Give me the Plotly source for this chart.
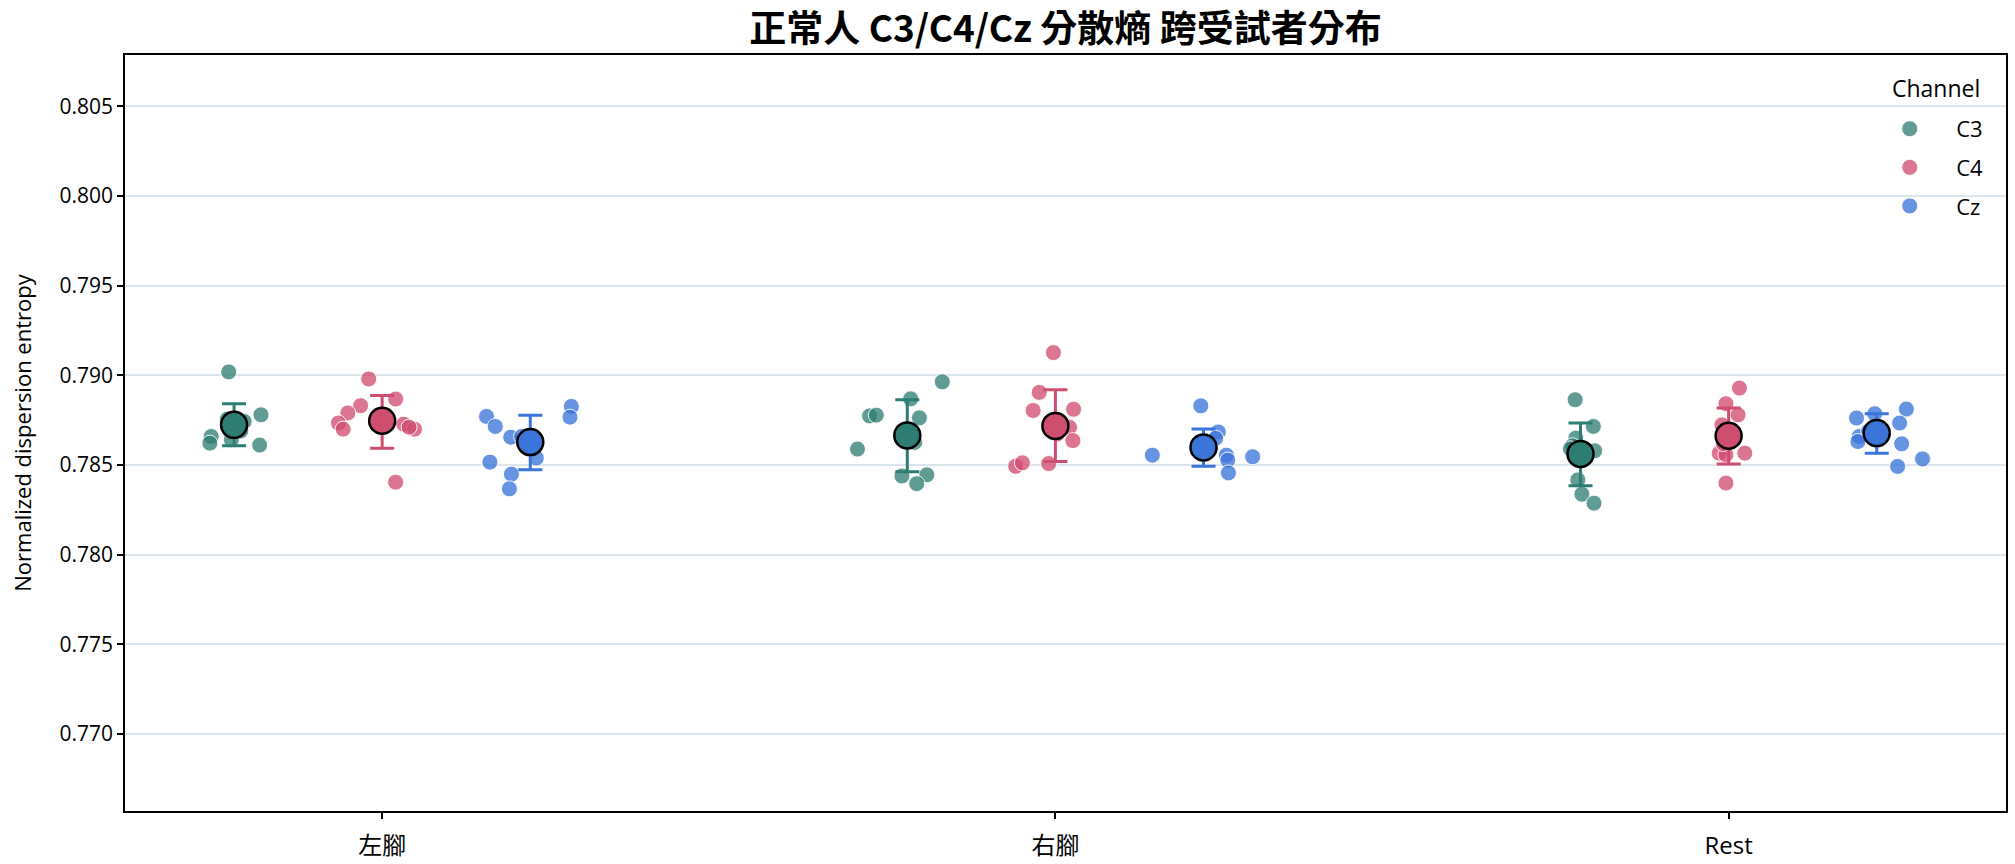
import plotly.graph_objects as go

# ---------------- data ----------------
conditions = ["左腳", "右腳", "Rest"]
channels = ["C3", "C4", "Cz"]

c3_values = [
    [0.79019, 0.78780, 0.78611, 0.78659, 0.78622, 0.78743, 0.78756, 0.78641, 0.78720, 0.78690],
    [0.78964, 0.78869, 0.78774, 0.78778, 0.78763, 0.78589, 0.78626, 0.78439, 0.78445, 0.78396],
    [0.78864, 0.78715, 0.78579, 0.78650, 0.78607, 0.78417, 0.78337, 0.78287, 0.78590, 0.78575],
]
c4_values = [
    [0.78980, 0.78868, 0.78831, 0.78790, 0.78734, 0.78700, 0.78728, 0.78700, 0.78404, 0.78711],
    [0.79127, 0.78905, 0.78804, 0.78811, 0.78710, 0.78636, 0.78493, 0.78512, 0.78508, 0.78674],
    [0.78929, 0.78842, 0.78780, 0.78724, 0.78566, 0.78557, 0.78566, 0.78399, 0.78650, 0.78620],
]
cz_values = [
    [0.78771, 0.78715, 0.78655, 0.78659, 0.78516, 0.78449, 0.78367, 0.78539, 0.78827, 0.78767],
    [0.78830, 0.78684, 0.78649, 0.78555, 0.78555, 0.78527, 0.78456, 0.78546, 0.78590, 0.78588],
    [0.78762, 0.78786, 0.78812, 0.78734, 0.78659, 0.78631, 0.78618, 0.78534, 0.78492, 0.78690],
]

# horizontal jitter of each subject's point (category units)
c3_jitter = [
    [-0.008, 0.040, 0.038, -0.034, -0.036, 0.015, -0.010, -0.004, 0.005, 0.010],
    [0.052, 0.005, -0.056, -0.046, 0.018, -0.074, 0.011, -0.008, 0.029, 0.014],
    [-0.008, 0.019, 0.021, -0.007, -0.012, -0.004, 0.002, 0.020, -0.015, 0.008],
]
c4_jitter = [
    [-0.020, 0.020, -0.032, -0.051, -0.065, -0.058, 0.032, 0.048, 0.020, 0.040],
    [-0.003, -0.024, -0.033, 0.027, 0.021, 0.026, -0.059, -0.049, -0.010, 0.003],
    [0.016, -0.004, 0.014, -0.010, -0.014, -0.004, 0.024, -0.004, 0.008, -0.008],
]
cz_jitter = [
    [-0.065, -0.052, -0.029, -0.013, -0.060, -0.028, -0.031, 0.009, 0.061, 0.059],
    [-0.004, 0.022, 0.018, -0.076, 0.034, 0.036, 0.037, 0.073, 0.010, -0.008],
    [-0.030, -0.003, 0.044, 0.034, -0.026, -0.028, 0.037, 0.068, 0.031, -0.012],
]

c3_mean = [0.78724, 0.78665, 0.78562]
c4_mean = [0.78747, 0.78718, 0.78663]
cz_mean = [0.78628, 0.78598, 0.78678]
c3_ci_low = [0.78607, 0.78462, 0.78384]
c4_ci_low = [0.78594, 0.78520, 0.78505]
cz_ci_low = [0.78473, 0.78493, 0.78566]
c3_ci_high = [0.78842, 0.78864, 0.78734]
c4_ci_high = [0.78888, 0.78920, 0.78818]
cz_ci_high = [0.78777, 0.78701, 0.78786]

y_ticks = [0.770, 0.775, 0.780, 0.785, 0.790, 0.795, 0.800, 0.805]

# ---------------- style ----------------
FONT = "Open Sans, Noto Sans CJK TC, sans-serif"
point_colors = {"C3": "rgba(46,125,115,0.76)", "C4": "rgba(208,74,110,0.76)", "Cz": "rgba(59,117,218,0.78)"}
mean_colors = {"C3": "#2e7d73", "C4": "#cf4d6f", "Cz": "#3b75da"}
DODGE = {"C3": -0.22, "C4": 0.0, "Cz": 0.22}

values = {"C3": c3_values, "C4": c4_values, "Cz": cz_values}
jitters = {"C3": c3_jitter, "C4": c4_jitter, "Cz": cz_jitter}
means = {"C3": c3_mean, "C4": c4_mean, "Cz": cz_mean}
lows = {"C3": c3_ci_low, "C4": c4_ci_low, "Cz": cz_ci_low}
highs = {"C3": c3_ci_high, "C4": c4_ci_high, "Cz": cz_ci_high}

fig = go.Figure()

for ch in channels:
    xs, ys = [], []
    for ci, cond in enumerate(conditions):
        for v, j in zip(values[ch][ci], jitters[ch][ci]):
            xs.append(ci + DODGE[ch] + j)
            ys.append(v)
    fig.add_trace(go.Scatter(
        x=xs, y=ys, mode="markers", name=ch, legendgroup=ch,
        marker=dict(size=16, color=point_colors[ch],
                    line=dict(color="rgba(255,255,255,0.9)", width=1)),
        hoverinfo="y",
    ))

for ch in channels:
    xs = [ci + DODGE[ch] for ci in range(len(conditions))]
    fig.add_trace(go.Scatter(
        x=xs, y=means[ch], mode="markers", showlegend=False, legendgroup=ch,
        marker=dict(size=26, color=mean_colors[ch], line=dict(color="black", width=2.5)),
        error_y=dict(type="data", symmetric=False,
                     array=[h - m for h, m in zip(highs[ch], means[ch])],
                     arrayminus=[m - l for m, l in zip(means[ch], lows[ch])],
                     color=mean_colors[ch], thickness=3, width=12),
    ))

fig.update_layout(
    width=2015, height=864,
    margin=dict(l=125, r=9, t=55, b=53),
    paper_bgcolor="white", plot_bgcolor="white",
    font=dict(family=FONT, size=22, color="black"),
    title=dict(text="<b>正常人 C3/C4/Cz 分散熵 跨受試者分布</b>",
               x=(125 + (2015 - 9)) / 2 / 2015, xanchor="center",
               y=1 - 29 / 864, yanchor="middle",
               font=dict(family="Noto Sans CJK TC, sans-serif", size=37, color="black")),
    showlegend=True,
    legend=dict(x=0.9241, xanchor="left", y=0.930, yanchor="top",
                bgcolor="rgba(0,0,0,0)", borderwidth=0,
                font=dict(size=22), tracegroupgap=7, itemsizing="trace", itemwidth=83),
    annotations=[dict(text="Channel", xref="paper", yref="paper",
                      x=0.987, xanchor="right", y=0.957, yanchor="middle",
                      showarrow=False, font=dict(size=23))],
)

fig.update_xaxes(
    range=[-0.382, 2.412], tickmode="array", tickvals=[0, 1, 2], ticktext=conditions,
    showgrid=False, zeroline=False, automargin=False,
    showline=True, mirror=True, linecolor="black", linewidth=1.5,
    ticks="outside", ticklen=6, tickwidth=1.5, tickcolor="black",
    tickfont=dict(size=24), ticklabelstandoff=6,
)
fig.update_yaxes(
    range=[0.76570, 0.80787], tickmode="array", tickvals=y_ticks,
    ticktext=[f"{t:.3f}" for t in y_ticks], automargin=False,
    showgrid=True, gridcolor="#dce4ec", gridwidth=1.5, zeroline=False,
    showline=True, mirror=True, linecolor="black", linewidth=1.5,
    ticks="outside", ticklen=6, tickwidth=1.5, tickcolor="black",
    tickfont=dict(size=21),
    title=dict(text="Normalized dispersion entropy", font=dict(size=22), standoff=22),
)

fig.write_html("out.html")
